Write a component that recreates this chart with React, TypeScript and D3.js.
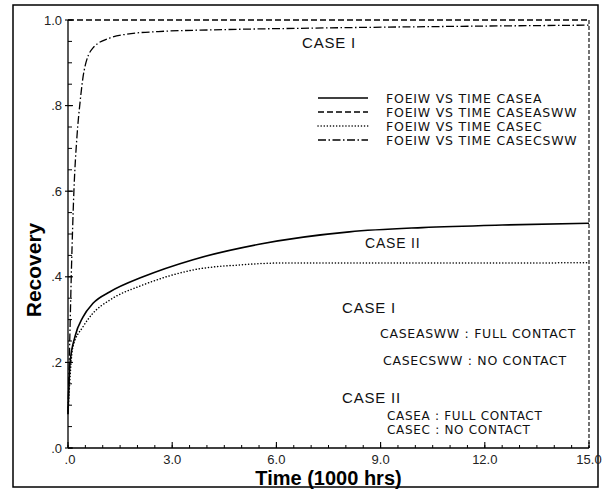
import React from "react";
import * as d3 from "d3";

// values (time in 1000 hrs, recovery fraction)
const timeA = [0, 0.06, 0.2, 0.43, 0.72, 1.21, 2.16, 3.6, 5.5, 8.1, 10.2, 12.5, 15];
const caseA = [0.08, 0.2, 0.26, 0.306, 0.338, 0.365, 0.4, 0.44, 0.476, 0.505, 0.515, 0.521, 0.525];

const timeC = [0, 0.14, 0.43, 0.72, 1.21, 2.16, 3.6, 5.0, 6.0, 9, 12, 15];
const caseC = [0.08, 0.236, 0.283, 0.315, 0.346, 0.381, 0.416, 0.428, 0.432, 0.432, 0.432, 0.433];

const timeASWW = [0, 15];
const caseASWW = [1.0, 1.0];

const timeCSWW = [0, 0.05, 0.1, 0.17, 0.26, 0.35, 0.46, 0.72, 1.21, 1.7, 2.6, 4.2, 7, 11, 15];
const caseCSWW = [0.08, 0.25, 0.42, 0.6, 0.73, 0.81, 0.88, 0.935, 0.958, 0.967, 0.973, 0.977, 0.981, 0.985, 0.988];

const xTickLabels = [".0", "3.0", "6.0", "9.0", "12.0", "15.0"];
const yTickLabels = [".0", ".2", ".4", ".6", ".8", "1.0"];

const legendNames = [
  "FOEIW VS TIME CASEA",
  "FOEIW VS TIME CASEASWW",
  "FOEIW VS TIME CASEC",
  "FOEIW VS TIME CASECSWW",
];

const W = 611;
const H = 497;
const margin = { left: 68, right: 22, top: 20, bottom: 49 };

const font = "'Liberation Sans', Arial, sans-serif";
const plotFont = "'DejaVu Sans', sans-serif";

export default function App() {
  const x = d3.scaleLinear().domain([0, 15]).range([margin.left, W - margin.right]);
  const y = d3.scaleLinear().domain([0, 1]).range([H - margin.bottom, margin.top]);

  const line = d3
    .line<[number, number]>()
    .x((d) => x(d[0]))
    .y((d) => y(d[1]))
    .curve(d3.curveMonotoneX);

  const zip = (t: number[], v: number[]) => t.map((d, i) => [d, v[i]] as [number, number]);

  const series = [
    { data: zip(timeA, caseA), dash: "none", width: 1.6, cap: "butt" },
    { data: zip(timeASWW, caseASWW), dash: "6,3", width: 1.3, cap: "butt" },
    { data: zip(timeC, caseC), dash: "0.1,3", width: 1.5, cap: "round" },
    { data: zip(timeCSWW, caseCSWW), dash: "8,2.5,1.5,2.5", width: 1.3, cap: "butt" },
  ];

  const xMinor = d3.range(0, 15.01, 0.5);
  const xMajor = d3.range(0, 15.01, 3);
  const yMinor = d3.range(0, 1.001, 0.05);
  const yMajor = d3.range(0, 1.001, 0.2);

  const x0 = x(0);
  const y0 = y(0);
  const xEnd = x(15);

  return (
    <svg
      width={W}
      height={H}
      style={{ position: "absolute", left: 0, top: 0, background: "#fff" }}
    >
      <rect x={13} y={5} width={585} height={482} fill="none" stroke="#000" strokeWidth={1.5} />

      {/* axes */}
      <line x1={x0} y1={y(1)} x2={x0} y2={y0} stroke="#000" strokeWidth={1.3} />
      <line x1={x0} y1={y0} x2={xEnd} y2={y0} stroke="#000" strokeWidth={1.3} />
      <line x1={xEnd} y1={y(1)} x2={xEnd} y2={y0} stroke="#000" strokeWidth={1.1} strokeDasharray="4,2" />

      {yMinor.map((v, i) => (
        <line key={"ym" + i} x1={x0} x2={x0 + 4} y1={y(v)} y2={y(v)} stroke="#000" strokeWidth={1} />
      ))}
      {yMajor.map((v, i) => (
        <line key={"yM" + i} x1={x0 - 3} x2={x0 + 5} y1={y(v)} y2={y(v)} stroke="#000" strokeWidth={1.1} />
      ))}
      {xMinor.map((v, i) => (
        <line key={"xm" + i} x1={x(v)} x2={x(v)} y1={y0} y2={y0 - 3} stroke="#000" strokeWidth={1} />
      ))}
      {xMajor.map((v, i) => (
        <line key={"xM" + i} x1={x(v)} x2={x(v)} y1={y0} y2={y0 - 6} stroke="#000" strokeWidth={1.1} />
      ))}

      {yMajor.map((v, i) => (
        <text
          key={"yl" + i}
          x={x0 - 6}
          y={y(v)}
          dy="0.36em"
          textAnchor="end"
          fontFamily={font}
          fontSize={13}
          fill="#222"
        >
          {yTickLabels[i]}
        </text>
      ))}
      {xMajor.map((v, i) => (
        <text
          key={"xl" + i}
          x={x(v) + (i === 0 ? 2 : 0)}
          y={y0 + 16}
          textAnchor="middle"
          fontFamily={font}
          fontSize={13}
          fill="#222"
        >
          {xTickLabels[i]}
        </text>
      ))}

      {/* curves */}
      {series.map((s, i) => (
        <path
          key={"s" + i}
          d={line(s.data) || ""}
          fill="none"
          stroke="#000"
          strokeWidth={s.width}
          strokeDasharray={s.dash}
          strokeLinecap={s.cap as any}
        />
      ))}

      {/* legend */}
      {series.map((s, i) => (
        <g key={"lg" + i} transform={`translate(0, ${98 + i * 14})`}>
          <line
            x1={318}
            x2={368}
            y1={0}
            y2={0}
            stroke="#000"
            strokeWidth={s.width}
            strokeDasharray={s.dash}
            strokeLinecap={s.cap as any}
          />
          <text
            x={386}
            y={0}
            dy="0.36em"
            fontFamily={plotFont}
            fontSize={12.5}
            letterSpacing={0.8}
            fill="#111"
          >
            {legendNames[i]}
          </text>
        </g>
      ))}

      {/* annotations */}
      <g fill="#111">
        <g fontFamily={font} fontSize={15} letterSpacing={0.8}>
          <text x={302} y={48}>CASE I</text>
          <text x={365} y={248} fontSize={14}>CASE II</text>
          <text x={342} y={313}>CASE I</text>
          <text x={342} y={403}>CASE II</text>
        </g>
        <g fontFamily={plotFont} fontSize={12.5} letterSpacing={0.7}>
          <text x={380} y={338}>CASEASWW : FULL CONTACT</text>
          <text x={383} y={365}>CASECSWW : NO CONTACT</text>
          <text x={387} y={420} fontSize={12}>CASEA : FULL CONTACT</text>
          <text x={387} y={434} fontSize={12}>CASEC : NO CONTACT</text>
        </g>
      </g>

      {/* axis titles */}
      <text
        x={(x0 + xEnd) / 2}
        y={485}
        textAnchor="middle"
        fontFamily={font}
        fontWeight="bold"
        fontSize={20}
      >
        Time (1000 hrs)
      </text>
      <text
        transform={`translate(41, ${(y(1) + y0) / 2 + 36}) rotate(-90)`}
        textAnchor="middle"
        fontFamily={font}
        fontWeight="bold"
        fontSize={21}
      >
        Recovery
      </text>
    </svg>
  );
}
